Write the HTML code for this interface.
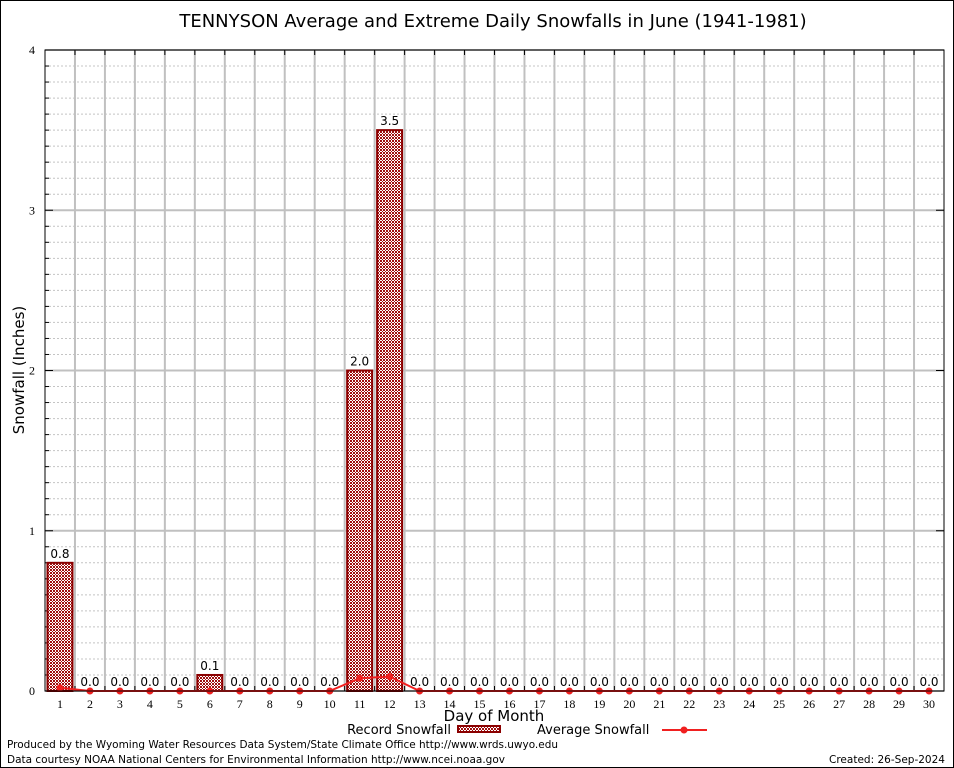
<!DOCTYPE html>
<html><head><meta charset="utf-8"><style>
body{margin:0;background:#fff}
svg{display:block;font-family:"DejaVu Sans","Liberation Sans",sans-serif}
</style></head><body>
<svg id="chart" width="954" height="768" xmlns="http://www.w3.org/2000/svg">
<defs>
<pattern id="hatch" width="3" height="3" patternUnits="userSpaceOnUse">
<rect width="3" height="3" fill="#fff"/>
<rect width="1" height="1" fill="#a01010"/><rect x="2" y="0" width="1" height="1" fill="#a01010"/>
<rect x="1" y="1" width="1" height="1" fill="#a01010"/>
<rect x="0" y="2" width="1" height="1" fill="#a01010"/><rect x="2" y="2" width="1" height="1" fill="#a01010"/>
</pattern>
</defs>
<rect x="0.5" y="0.5" width="953" height="767" fill="#fff" stroke="#000"/>
<text x="493" y="27" font-size="18" text-anchor="middle">TENNYSON Average and Extreme Daily Snowfalls in June (1941-1981)</text>
<g id="grid"></g>
<g id="bars"></g>
<g id="avg"></g>
<rect x="45" y="50" width="899" height="641" fill="none" stroke="#000" stroke-width="1"/>
<text transform="translate(24,370) rotate(-90)" font-size="15" text-anchor="middle">Snowfall (Inches)</text>
<text x="494" y="721" font-size="15" text-anchor="middle">Day of Month</text>
<g>
<text x="451" y="734" font-size="13" text-anchor="end">Record Snowfall</text>
<rect x="458" y="726" width="42" height="6" fill="url(#hatch)" stroke="#8b0000" stroke-width="2"/>
<text x="537" y="734" font-size="13">Average Snowfall</text>
<line x1="662" y1="730" x2="707" y2="730" stroke="#f02020" stroke-width="2"/>
<circle cx="684" cy="730" r="3.5" fill="#f02020"/>
</g>
<text x="7" y="748" font-size="11" textLength="551" lengthAdjust="spacingAndGlyphs">Produced by the Wyoming Water Resources Data System/State Climate Office http://www.wrds.uwyo.edu</text>
<text x="7" y="763" font-size="11" textLength="498" lengthAdjust="spacingAndGlyphs">Data courtesy NOAA National Centers for Environmental Information http://www.ncei.noaa.gov</text>
<text x="829" y="763" font-size="11" textLength="116" lengthAdjust="spacingAndGlyphs">Created: 26-Sep-2024</text>
</svg>
<script>
const days = [1,2,3,4,5,6,7,8,9,10,11,12,13,14,15,16,17,18,19,20,21,22,23,24,25,26,27,28,29,30];
const recordSnow = [0.8,0,0,0,0,0.1,0,0,0,0,2.0,3.5,0,0,0,0,0,0,0,0,0,0,0,0,0,0,0,0,0,0];
const avgSnow = [0.02,0,0,0,0,0,0,0,0,0,0.08,0.09,0,0,0,0,0,0,0,0,0,0,0,0,0,0,0,0,0,0];
const yTicks = [0,1,2,3,4];
const NS="http://www.w3.org/2000/svg";
const L=45,R=944,T=50,B=691,yMax=4;
const bw=(R-L)/days.length;
const xc=d=>L+(d-0.5)*bw;
const y=v=>B-v/yMax*(B-T);
function mk(tag,attrs,parent){const e=document.createElementNS(NS,tag);for(const k in attrs)e.setAttribute(k,attrs[k]);parent.appendChild(e);return e;}
const grid=document.getElementById('grid');
for(let i=0;i<=yMax*10;i++){
  const v=i/10, yy=y(v);
  if(i%10===0){
    const l=mk('line',{x1:L,x2:R,y1:yy,y2:yy,stroke:'#c0c0c0','stroke-width':2},grid);
    
    
    const t=mk('text',{x:L-10,y:yy+4,'font-size':12,'text-anchor':'end','font-family':'Liberation Serif, serif'},grid);
    t.textContent=v;
    
    
    mk('line',{x1:L,x2:L+8,y1:yy,y2:yy,stroke:'#000'},grid);
    mk('line',{x1:R-8,x2:R,y1:yy,y2:yy,stroke:'#000'},grid);
  } else {
    const l=mk('line',{x1:L,x2:R,y1:yy,y2:yy,stroke:'#c4c4c4','stroke-dasharray':'2,2'},grid);
    
    
    mk('line',{x1:L,x2:L+4,y1:yy,y2:yy,stroke:'#000'},grid);
  }
}
for(let i=1;i<days.length;i++){
  const xx=L+i*bw;
  const l=mk('line',{x1:xx,x2:xx,y1:T,y2:B,stroke:'#c0c0c0','stroke-width':2},grid);
  
  
  mk('line',{x1:xx,x2:xx,y1:T,y2:T+5,stroke:'#000'},grid);
  mk('line',{x1:xx,x2:xx,y1:B-5,y2:B,stroke:'#000'},grid);
}
days.forEach((d,i)=>{
  const t=mk('text',{x:xc(d),y:B+17,'font-size':12,'text-anchor':'middle','font-family':'Liberation Serif, serif'},grid);
  t.textContent=d;
  
  
});
const bars=document.getElementById('bars');
days.forEach((d,i)=>{
  const v=recordSnow[i];
  if(v>0){
    const r=mk('rect',{x:xc(d)-12.5,y:y(v),width:25,height:B-y(v),fill:'url(#hatch)',stroke:'#8b0000','stroke-width':2},bars);
    
    
  }
  const t=mk('text',{x:xc(d),y:y(v)-5,'font-size':12,'text-anchor':'middle'},bars);
  t.textContent=v.toFixed(1);
  
  
});
const avg=document.getElementById('avg');
const pl=mk('polyline',{points:days.map((d,i)=>xc(d)+','+y(avgSnow[i])).join(' '),fill:'none',stroke:'#f02020','stroke-width':2},avg);


days.forEach((d,i)=>{
  const c=mk('circle',{cx:xc(d),cy:y(avgSnow[i]),r:3.5,fill:'#f02020'},avg);
  
  
});
</script>
</body></html>
